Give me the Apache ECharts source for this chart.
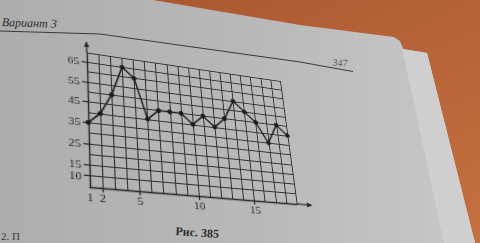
<!DOCTYPE html>
<html><head><meta charset="utf-8">
<script src="https://cdn.jsdelivr.net/npm/echarts@6/dist/echarts.min.js"></script>
<style>
html,body{margin:0;padding:0;width:480px;height:243px;overflow:hidden;background:#bcbcbc;}
#bg,#plot{position:absolute;left:0;top:0;width:480px;height:243px;}
#plot{transform-origin:0 0;}
</style></head><body>
<div id="bg"></div><div id="plot"></div>
<script>
// ---- data (perspective corrected) ----
const xValues = [1,2,3,4,5,6,7,8,9,10,11,12,13,14,15,16,17,18,19];
const yValues = [35,40,50,65,60,40,45,45,45,40,45,40,45,55,50,45,35,45,40];
const xTickLabels = [1,2,5,10,15];
const xTickMarks = [2,5,10,15];
const yTickLabels = [10,15,25,35,45,55,65];
const caption = 'Рис. 385';
const headerText = 'Вариант 3';
const pageNumber = '347';

const INK = '#262626';
const SERIF = '"Liberation Serif","DejaVu Serif",serif';

// ---- background page (photo surroundings) ----
const bg = echarts.init(document.getElementById('bg'), null, {renderer:'svg'});
bg.setOption({
  animation:false,
  graphic:[
    {type:'rect', shape:{x:0,y:0,width:480,height:243},
     style:{fill:new echarts.graphic.LinearGradient(0,0,1,1,[{offset:0,color:'#a6542f'},{offset:1,color:'#c47040'}])}},
    {type:'polygon', shape:{points:[[0,0],[153,0],[300,25],[394,37],[400,41],[403,49],[427,53],[475,243],[0,243]]},
     style:{fill:new echarts.graphic.LinearGradient(0,0,1,0,[{offset:0,color:'#adadad'},{offset:0.55,color:'#b9b9b9'},{offset:1,color:'#c8c8c8'}])}},
    {type:'polygon', shape:{points:[[401,43],[403,49],[427,53],[475,243],[444,243]]},
     style:{fill:'#cfcfcf'}},
    {type:'polyline', shape:{points:[[0,31],[100,34],[200,48],[300,62],[353,71.5]]},
     style:{stroke:'#3a3a3a', lineWidth:1, fill:null}},
    {type:'text', x:2, y:16, rotation:-0.03,
     style:{text:headerText, font:'italic 12px '+SERIF, fill:'#2e2e2e'}},
    {type:'text', x:333, y:57, rotation:-0.08,
     style:{text:pageNumber, font:'10px '+SERIF, fill:'#5a5a5a'}},
    {type:'text', x:176, y:225, rotation:-0.07,
     style:{text:caption, font:'bold 12px '+SERIF, fill:'#2e2e2e'}},
    {type:'text', x:1, y:230,
     style:{text:'2. П', font:'11px '+SERIF, fill:'#3a3a3a'}}
  ]
});

// ---- chart (flat, later mapped with the photo's perspective) ----
const chart = echarts.init(document.getElementById('plot'), null, {renderer:'svg'});
const GL = 87, GT = 52, GW = 200, GH = 134;
const gridLineStyle = {color:'#303030', width:1};
chart.setOption({
  animation:false,
  grid:{left:GL, top:GT, width:GW, height:GH, containLabel:false},
  xAxis:[
    {type:'value', min:1, max:19, interval:1,
     axisLine:{show:true, lineStyle:{color:INK, width:1.3}},
     axisTick:{show:true, customValues:xTickMarks, length:4, lineStyle:{color:INK, width:1.2}},
     axisLabel:{customValues:xTickLabels, hideOverlap:false, margin:4, color:INK, fontFamily:SERIF, fontSize:11},
     splitLine:{show:false}},
    {type:'value', min:1, max:19, interval:1, position:'bottom',
     axisLine:{show:false}, axisTick:{show:false}, axisLabel:{show:false},
     splitLine:{show:true, lineStyle:gridLineStyle}}
  ],
  yAxis:[
    {type:'value', min:5, max:70, interval:5,
     axisLine:{show:true, lineStyle:{color:INK, width:1.3}},
     axisTick:{show:true, customValues:yTickLabels, length:5, lineStyle:{color:INK, width:1.2}},
     axisLabel:{interval:0, hideOverlap:false, showMinLabel:true, margin:7, color:INK, fontFamily:SERIF, fontSize:11, lineHeight:9,
       formatter:v => yTickLabels.indexOf(v) >= 0 ? String(v) : ''},
     splitLine:{show:false}},
    {type:'value', min:5, max:70, interval:5, position:'left',
     axisLine:{show:false}, axisTick:{show:false}, axisLabel:{show:false},
     splitLine:{show:true, lineStyle:gridLineStyle}}
  ],
  series:[{type:'line', xAxisIndex:0, yAxisIndex:0,
    data:xValues.map((x,i)=>[x,yValues[i]]),
    symbol:'circle', symbolSize:5, z:5,
    lineStyle:{color:'#1c1c1c', width:1.5}, itemStyle:{color:'#1c1c1c'}}]
});

// axis extensions with arrows
const tl = chart.convertToPixel({xAxisIndex:0, yAxisIndex:0},[1,70]);
const bl = chart.convertToPixel({xAxisIndex:0, yAxisIndex:0},[1,5]);
const br = chart.convertToPixel({xAxisIndex:0, yAxisIndex:0},[19,5]);
const tr = chart.convertToPixel({xAxisIndex:0, yAxisIndex:0},[19,70]);
const yTip = [tl[0], tl[1]-11], xTip = [br[0]+16, br[1]];
chart.setOption({graphic:[
  {type:'line', shape:{x1:tl[0],y1:tl[1],x2:yTip[0],y2:yTip[1]}, style:{stroke:INK,lineWidth:1.2}},
  {type:'polygon', shape:{points:[[yTip[0],yTip[1]-1],[yTip[0]-2.5,yTip[1]+5],[yTip[0]+2.5,yTip[1]+5]]}, style:{fill:INK}},
  {type:'line', shape:{x1:br[0],y1:br[1],x2:xTip[0],y2:xTip[1]}, style:{stroke:INK,lineWidth:1.2}},
  {type:'polygon', shape:{points:[[xTip[0]+1,xTip[1]],[xTip[0]-5,xTip[1]-2.5],[xTip[0]-5,xTip[1]+2.5]]}, style:{fill:INK}}
]});

// perspective of the photographed page
function homography(src, dst){
  const A=[], b=[];
  for(let i=0;i<4;i++){
    const [x,y]=src[i],[u,v]=dst[i];
    A.push([x,y,1,0,0,0,-u*x,-u*y]); b.push(u);
    A.push([0,0,0,x,y,1,-v*x,-v*y]); b.push(v);
  }
  const n=8;
  for(let c=0;c<n;c++){
    let p=c; for(let r=c+1;r<n;r++) if(Math.abs(A[r][c])>Math.abs(A[p][c])) p=r;
    [A[c],A[p]]=[A[p],A[c]]; [b[c],b[p]]=[b[p],b[c]];
    for(let r=0;r<n;r++){ if(r===c) continue;
      const f=A[r][c]/A[c][c];
      for(let k=c;k<n;k++) A[r][k]-=f*A[c][k];
      b[r]-=f*b[c];
    }
  }
  return b.map((v,i)=>v/A[i][i]);
}
const h = homography([tl,tr,br,bl], [[86.7,52.5],[280,81],[296.7,204],[90,187]]);
document.getElementById('plot').style.transform =
  'matrix3d('+[h[0],h[3],0,h[6], h[1],h[4],0,h[7], 0,0,1,0, h[2],h[5],0,1].join(',')+')';
</script>
</body></html>
